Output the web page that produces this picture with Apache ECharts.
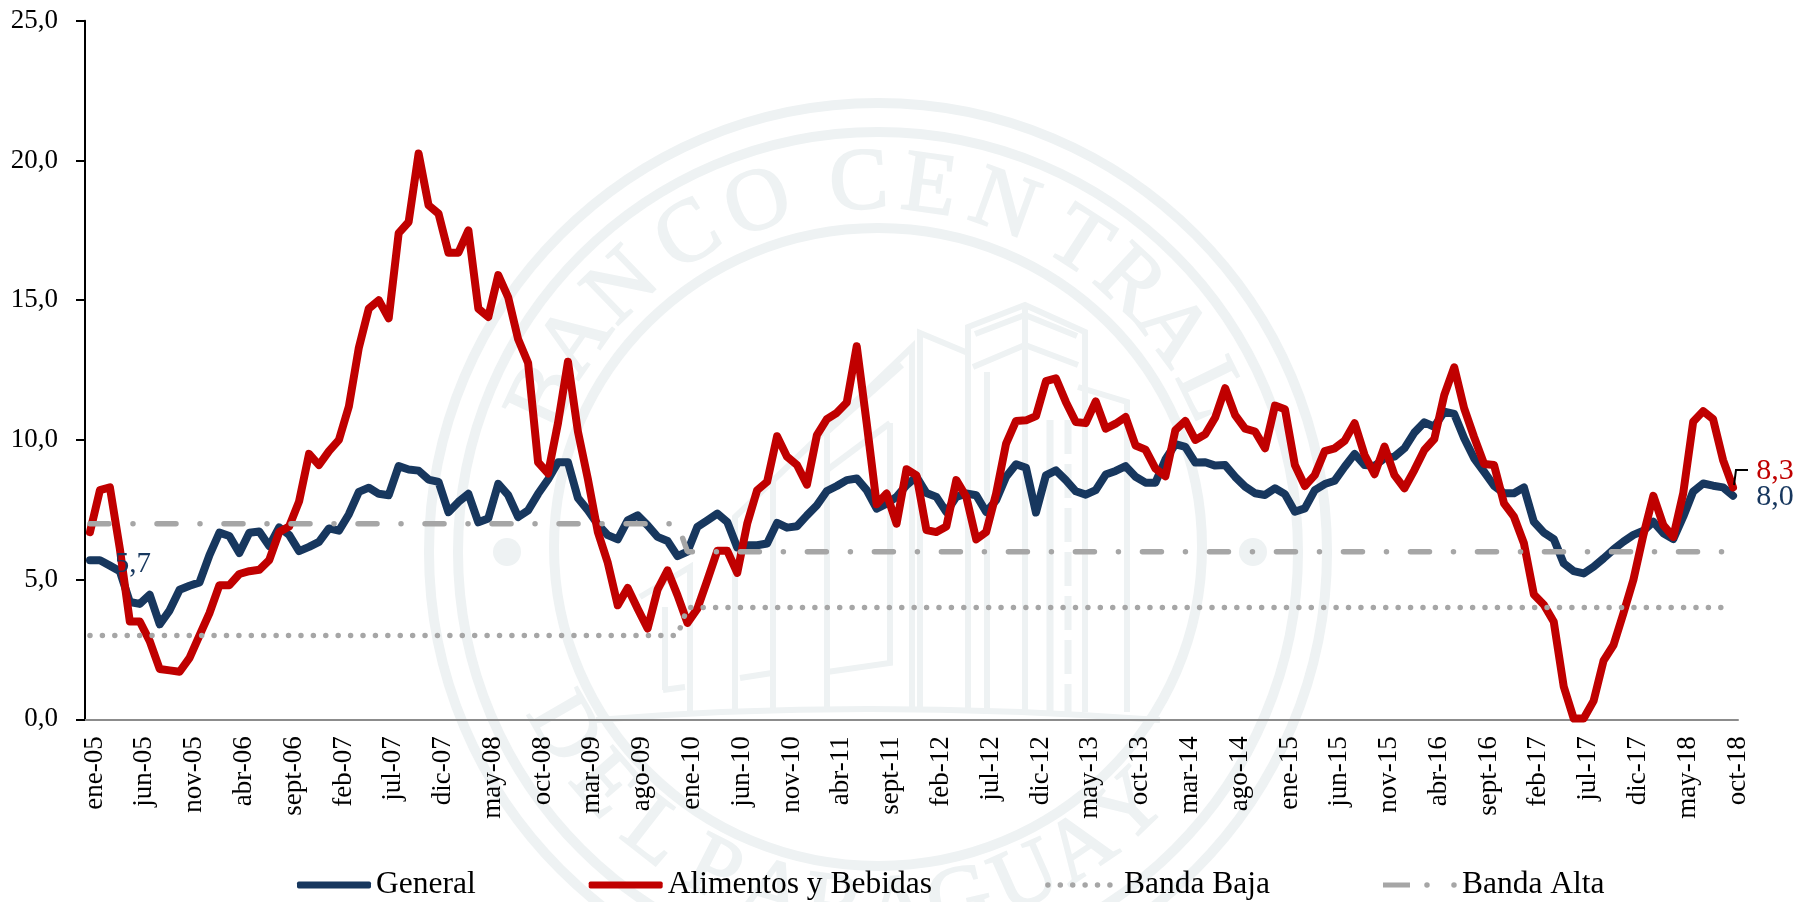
<!DOCTYPE html>
<html>
<head>
<meta charset="utf-8">
<script src="https://cdn.jsdelivr.net/npm/echarts@6/dist/echarts.min.js"></script>
<style>
  html, body { margin: 0; padding: 0; background: #fff; }
  #chart { width: 1806px; height: 902px; }
</style>
</head>
<body>
<div id="chart"></div>
<script>
const monthNames = ['ene', 'feb', 'mar', 'abr', 'may', 'jun', 'jul', 'ago', 'sept', 'oct', 'nov', 'dic'];
const years = ['05', '06', '07', '08', '09', '10', '11', '12', '13', '14', '15', '16', '17', '18'];

const categories = [];
years.forEach((y) => {
  monthNames.forEach((m) => {
    categories.push(m + '-' + y);
  });
});
categories.length = 166; // termina en oct-18

const general = [
  5.69, 5.69, 5.5, 5.3, 4.2, 4.13, 4.46, 3.4, 3.9, 4.64,
  4.78, 4.9, 5.88, 6.68, 6.56, 5.95, 6.68, 6.72, 6.2, 6.87,
  6.6, 6.02, 6.17, 6.35, 6.83, 6.75, 7.34, 8.14, 8.29, 8.07,
  8.02, 9.06, 8.94, 8.9, 8.58, 8.5, 7.41, 7.78, 8.07, 7.05,
  7.19, 8.43, 8.02, 7.24, 7.48, 8.07, 8.58, 9.2, 9.2, 7.92,
  7.48, 6.97, 6.59, 6.44, 7.12, 7.3, 6.94, 6.53, 6.38, 5.84,
  6.0, 6.89, 7.12, 7.36, 7.06, 6.15, 6.23, 6.23, 6.29, 7.03,
  6.86, 6.91, 7.3, 7.66, 8.17, 8.35, 8.56, 8.62, 8.2, 7.54,
  7.72, 7.96, 8.38, 8.68, 8.1, 7.96, 7.42, 7.96, 8.08, 8.02,
  7.42, 7.84, 8.68, 9.13, 9.0, 7.4, 8.73, 8.91, 8.56, 8.16,
  8.04, 8.2, 8.76, 8.89, 9.06, 8.68, 8.47, 8.47, 9.3, 9.85,
  9.75, 9.19, 9.2, 9.08, 9.1, 8.68, 8.33, 8.09, 8.03, 8.27,
  8.06, 7.43, 7.55, 8.2, 8.42, 8.54, 9.04, 9.5, 9.1, 9.07,
  9.34, 9.4, 9.7, 10.26, 10.63, 10.47, 11.01, 10.93, 10.06, 9.34,
  8.86, 8.36, 8.09, 8.09, 8.3, 7.07, 6.68, 6.45, 5.58, 5.3,
  5.22, 5.46, 5.76, 6.08, 6.36, 6.6, 6.75, 7.07, 6.66, 6.45,
  7.25, 8.15, 8.44, 8.36, 8.3, 8.0
];

const alimentos = [
  6.7, 8.2, 8.3, 6.1, 3.5, 3.5, 2.8, 1.8, 1.75, 1.7,
  2.2, 3.0, 3.8, 4.8, 4.8, 5.2, 5.3, 5.35, 5.7, 6.7,
  6.9, 7.8, 9.5, 9.1, 9.6, 10.0, 11.2, 13.3, 14.7, 15.0,
  14.35, 17.4, 17.8, 20.25, 18.4, 18.1, 16.7, 16.7, 17.5, 14.7,
  14.4, 15.9, 15.1, 13.6, 12.75, 9.2, 8.8, 10.6, 12.8, 10.3,
  8.6, 6.7, 5.6, 4.08, 4.7, 3.96, 3.25, 4.64, 5.33, 4.44,
  3.45, 3.96, 4.98, 6.03, 6.03, 5.24, 7.0, 8.2, 8.5, 10.13,
  9.4, 9.1, 8.4, 10.17, 10.74, 10.97, 11.34, 13.35, 10.6, 7.7,
  8.08, 7.0, 8.95, 8.73, 6.77, 6.7, 6.9, 8.56, 7.96, 6.44,
  6.7, 8.08, 9.87, 10.68, 10.7, 10.85, 12.1, 12.2, 11.36, 10.64,
  10.6, 11.38, 10.4, 10.58, 10.82, 9.8, 9.65, 8.97, 8.7, 10.35,
  10.68, 10.0, 10.2, 10.8, 11.85, 10.89, 10.4, 10.3, 9.7, 11.23,
  11.1, 9.1, 8.35, 8.74, 9.6, 9.7, 9.97, 10.6, 9.46, 8.77,
  9.76, 8.74, 8.27, 8.92, 9.64, 10.03, 11.6, 12.6, 11.13, 10.1,
  9.14, 9.1, 7.73, 7.25, 6.3, 4.47, 4.1, 3.49, 1.17, 0.03,
  0.03, 0.66, 2.1, 2.66, 3.8, 5.0, 6.6, 8.0, 6.95, 6.53,
  8.09, 10.65, 11.03, 10.74, 9.28, 8.3
];

const bandaBaja = [
  3, 3, 3, 3, 3, 3, 3, 3, 3, 3, 3, 3, 3, 3, 3, 3, 3, 3, 3, 3,
  3, 3, 3, 3, 3, 3, 3, 3, 3, 3, 3, 3, 3, 3, 3, 3, 3, 3, 3, 3,
  3, 3, 3, 3, 3, 3, 3, 3, 3, 3, 3, 3, 3, 3, 3, 3, 3, 3, 3, 3,
  4, 4, 4, 4, 4, 4, 4, 4, 4, 4, 4, 4, 4, 4, 4, 4, 4, 4, 4, 4,
  4, 4, 4, 4, 4, 4, 4, 4, 4, 4, 4, 4, 4, 4, 4, 4, 4, 4, 4, 4,
  4, 4, 4, 4, 4, 4, 4, 4, 4, 4, 4, 4, 4, 4, 4, 4, 4, 4, 4, 4,
  4, 4, 4, 4, 4, 4, 4, 4, 4, 4, 4, 4, 4, 4, 4, 4, 4, 4, 4, 4,
  4, 4, 4, 4, 4, 4, 4, 4, 4, 4, 4, 4, 4, 4, 4, 4, 4, 4, 4, 4,
  4, 4, 4, 4, 4, 4
];

const bandaAlta = [
  7, 7, 7, 7, 7, 7, 7, 7, 7, 7, 7, 7, 7, 7, 7, 7, 7, 7, 7, 7,
  7, 7, 7, 7, 7, 7, 7, 7, 7, 7, 7, 7, 7, 7, 7, 7, 7, 7, 7, 7,
  7, 7, 7, 7, 7, 7, 7, 7, 7, 7, 7, 7, 7, 7, 7, 7, 7, 7, 7, 7,
  6, 6, 6, 6, 6, 6, 6, 6, 6, 6, 6, 6, 6, 6, 6, 6, 6, 6, 6, 6,
  6, 6, 6, 6, 6, 6, 6, 6, 6, 6, 6, 6, 6, 6, 6, 6, 6, 6, 6, 6,
  6, 6, 6, 6, 6, 6, 6, 6, 6, 6, 6, 6, 6, 6, 6, 6, 6, 6, 6, 6,
  6, 6, 6, 6, 6, 6, 6, 6, 6, 6, 6, 6, 6, 6, 6, 6, 6, 6, 6, 6,
  6, 6, 6, 6, 6, 6, 6, 6, 6, 6, 6, 6, 6, 6, 6, 6, 6, 6, 6, 6,
  6, 6, 6, 6, 6, 6
];

const serif = '"Liberation Serif", serif';
const colorGeneral = '#17375e';
const colorAlimentos = '#c00000';
const colorBanda = '#a6a6a6';
const colorSello = '#eef2f3';

// iconos de la leyenda, en una caja de 74x7
const cajaIcono = 'M0 0L0.01 0M74 7L73.99 7';
function punto(x) {
  return 'M' + (x - 2.75) + ' 3.5a2.75 2.75 0 1 0 5.5 0a2.75 2.75 0 1 0 -5.5 0z';
}
const iconoBaja = 'path://' + cajaIcono + [3, 15.4, 27.8, 40.2, 52.6, 65].map(punto).join('');
const iconoAlta = 'path://' + cajaIcono + 'M0 1H27V6H0z' + [46, 73].map((x) => punto(x - 2)).join('');

// sello de fondo (marca de agua)
const selloX = 878;
const selloY = 552;
const letrasArriba = [
  ['B', -65], ['A', -55], ['N', -44], ['C', -31], ['O', -19], ['C', -3],
  ['E', 8], ['N', 20], ['T', 33], ['R', 43], ['A', 53], ['L', 64]
];
const letrasAbajo = [
  ['D', -60], ['E', -49], ['L', -38], ['P', -27], ['A', -17], ['R', -7],
  ['A', 3], ['G', 13], ['U', 24], ['A', 34], ['Y', 44]
];
const edificios = [
  [[968, 712], [968, 327], [1025, 305], [1085, 332], [1085, 712]],
  [[1025, 305], [1025, 712]],
  [[973, 367], [1025, 345], [1078, 365]],
  [[975, 334], [1025, 315], [1077, 336]],
  [[987, 372], [987, 712]],
  [[920, 712], [920, 333], [968, 353]],
  [[912, 712], [912, 347], [735, 517], [735, 712]],
  [[902, 365], [827, 432], [827, 712]],
  [[890, 423], [827, 470]],
  [[890, 423], [890, 663], [827, 672]],
  [[773, 480], [773, 712]],
  [[740, 678], [772, 673]],
  [[663, 690], [685, 687]],
  [[665, 690], [665, 607]],
  [[640, 597], [690, 567], [690, 712]],
  [[1078, 387], [1127, 402], [1127, 712]]
];

function selloGraphics() {
  const items = [];
  [[449, 449, selloY], [420, 420, selloY], [324, 319, 547]].forEach((r) => {
    items.push({
      type: 'ellipse', z: -1, silent: true,
      shape: { cx: selloX, cy: r[2], rx: r[0], ry: r[1] },
      style: { fill: 'none', stroke: colorSello, lineWidth: 10 }
    });
  });
  [507, 1253].forEach((x) => {
    items.push({
      type: 'circle', z: -1, silent: true,
      shape: { cx: x, cy: selloY, r: 14 },
      style: { fill: colorSello }
    });
  });
  letrasArriba.forEach((l) => {
    const a = l[1] * Math.PI / 180;
    items.push({
      type: 'text', z: -1, silent: true,
      x: selloX + 367 * Math.sin(a), y: selloY - 367 * Math.cos(a), rotation: -a,
      style: { text: l[0], font: '88px ' + serif, fill: colorSello, stroke: colorSello, lineWidth: 2, align: 'center', verticalAlign: 'middle' }
    });
  });
  letrasAbajo.forEach((l) => {
    const a = l[1] * Math.PI / 180;
    items.push({
      type: 'text', z: -1, silent: true,
      x: selloX + 365 * Math.sin(a), y: 547 + 365 * Math.cos(a), rotation: a,
      style: { text: l[0], font: '88px ' + serif, fill: colorSello, stroke: colorSello, lineWidth: 2, align: 'center', verticalAlign: 'middle' }
    });
  });
  edificios.forEach((puntos) => {
    items.push({
      type: 'polyline', z: -1, silent: true,
      shape: { points: puntos },
      style: { fill: 'none', stroke: colorSello, lineWidth: 6 }
    });
  });
  items.push({
    type: 'bezierCurve', z: -1, silent: true,
    shape: { x1: 596, y1: 720, cpx1: 860, cpy1: 698, x2: 1160, y2: 720 },
    style: { fill: 'none', stroke: colorSello, lineWidth: 6 }
  });
  // columna rayada del edificio central
  [[1050, [300, 0]], [1068, [34, 10]]].forEach((c) => {
    items.push({
      type: 'line', z: -1, silent: true,
      shape: { x1: c[0], y1: 420, x2: c[0], y2: 712 },
      style: { stroke: colorSello, lineWidth: 7, lineDash: c[1] }
    });
  });
  // guia de la etiqueta final
  items.push({
    type: 'polyline', z: 10, silent: true,
    shape: { points: [[1734, 485], [1736, 470], [1748, 470]] },
    style: { fill: 'none', stroke: '#000', lineWidth: 2 }
  });
  return items;
}

function valueLabel(text, color, fontSize, offset) {
  return {
    show: true,
    position: 'inside',
    formatter: text,
    color: color,
    fontFamily: serif,
    fontSize: fontSize,
    offset: offset
  };
}

const chart = echarts.init(document.getElementById('chart'), null, { renderer: 'canvas' });

chart.setOption({
  animation: false,
  backgroundColor: '#fff',
  graphic: { elements: selloGraphics() },
  grid: { left: 85, right: 68, top: 20.8, bottom: 182.7 },
  legend: {
    left: 297,
    top: 869,
    padding: 0,
    itemWidth: 74,
    itemHeight: 7,
    itemGap: 113,
    textStyle: { color: '#000', fontFamily: serif, fontSize: 31.5 },
    data: [
      { name: 'General', icon: 'roundRect' },
      { name: 'Alimentos y Bebidas', icon: 'roundRect' },
      { name: 'Banda Baja', icon: iconoBaja },
      { name: 'Banda Alta', icon: iconoAlta }
    ]
  },
  xAxis: {
    type: 'category',
    data: categories,
    boundaryGap: true,
    axisLine: { lineStyle: { color: '#8c8c8c', width: 2 } },
    axisTick: { interval: 4, alignWithLabel: false, length: 9, lineStyle: { color: '#8c8c8c', width: 2 } },
    axisLabel: {
      interval: 4,
      rotate: 90,
      margin: 17,
      verticalAlign: 'top',
      lineHeight: 9,
      color: '#000',
      fontFamily: serif,
      fontSize: 27,
      hideOverlap: false
    }
  },
  yAxis: {
    type: 'value',
    min: 0,
    max: 25,
    interval: 5,
    splitLine: { show: false },
    axisLine: { show: true, lineStyle: { color: '#000', width: 2 } },
    axisTick: { show: true, length: 9, lineStyle: { color: '#000', width: 2 } },
    axisLabel: {
      margin: 27,
      color: '#000',
      fontFamily: serif,
      fontSize: 27,
      formatter: (v) => v.toFixed(1).replace('.', ',')
    }
  },
  series: [
    {
      name: 'General',
      type: 'line',
      data: general,
      symbol: 'none',
      lineStyle: { color: colorGeneral, width: 8, cap: 'round', join: 'round' },
      itemStyle: { color: colorGeneral },
      markPoint: {
        symbol: 'circle',
        symbolSize: 1,
        itemStyle: { color: 'transparent' },
        silent: true,
        data: [
          { coord: [categories[0], general[0]], label: valueLabel('5,7', colorGeneral, 29, [43, 4]) },
          { coord: [categories[165], general[165]], label: valueLabel('8,0', colorGeneral, 30, [42, 1]) }
        ]
      }
    },
    {
      name: 'Alimentos y Bebidas',
      type: 'line',
      data: alimentos,
      symbol: 'none',
      lineStyle: { color: colorAlimentos, width: 8, cap: 'round', join: 'round' },
      itemStyle: { color: colorAlimentos },
      markPoint: {
        symbol: 'circle',
        symbolSize: 1,
        itemStyle: { color: 'transparent' },
        silent: true,
        data: [
          { coord: [categories[165], alimentos[165]], label: valueLabel('8,3', colorAlimentos, 30, [42, -16]) }
        ]
      }
    },
    {
      name: 'Banda Baja',
      type: 'line',
      data: bandaBaja,
      symbol: 'none',
      lineStyle: { color: colorBanda, width: 5.5, type: [0.01, 12.4], cap: 'round' },
      itemStyle: { color: colorBanda }
    },
    {
      name: 'Banda Alta',
      type: 'line',
      data: bandaAlta,
      symbol: 'none',
      lineStyle: { color: colorBanda, width: 5.5, type: [19, 24, 0.01, 24], cap: 'round' },
      itemStyle: { color: colorBanda }
    }
  ]
});
</script>
</body>
</html>
